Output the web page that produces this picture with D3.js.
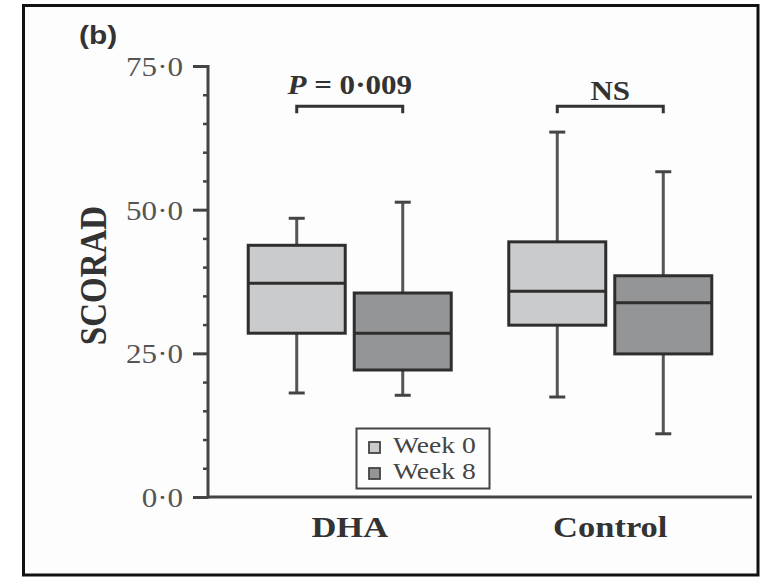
<!DOCTYPE html>
<html>
<head>
<meta charset="utf-8">
<script src="https://cdn.jsdelivr.net/npm/d3@7"></script>
<style>
  html, body { margin: 0; padding: 0; background: #ffffff; }
  svg { display: block; }
</style>
</head>
<body>
<svg id="chart" width="762" height="578"></svg>
<script>
// SCORAD at week 0 and week 8, by treatment group
const groups = ["DHA", "Control"];
const weeks = ["Week 0", "Week 8"];
// [whisker low, Q1, median, Q3, whisker high]
const dhaStats = [
  [18.1, 28.5, 37.2, 43.8, 48.5],
  [17.7, 22.1, 28.5, 35.5, 51.3]
];
const controlStats = [
  [17.4, 29.9, 35.8, 44.4, 63.5],
  [11.0, 24.9, 33.8, 38.5, 56.6]
];
const yTicks = [0, 25, 50, 75];
const comparisons = ["P = 0·009", "NS"];
const bracketLevel = 68;

const boxColors = { "Week 0": "#c9cbcd", "Week 8": "#939597" };
const ink = "#2e2e2e";
const stretch = 1.15;

const svg = d3.select("#chart");

// white page with black frame
svg.append("rect").attr("x", 0).attr("y", 0).attr("width", 762).attr("height", 578).attr("fill", "#ffffff");
svg.append("rect").attr("x", 23.5).attr("y", 5.5).attr("width", 734.5).attr("height", 569.5)
  .attr("fill", "#fdfdfd").attr("stroke", "#111").attr("stroke-width", 3);

const x0 = 208, x1 = 752, yTop = 66, yBot = 497;
const y = d3.scaleLinear().domain([0, 75]).range([yBot, yTop]);
const xg = d3.scaleBand().domain(groups).range([x0, x1]).paddingInner(0).paddingOuter(0.044);
const xw = d3.scaleBand().domain(weeks).range([-101.5, 101.5]).paddingInner(0.085);

const data = [];
groups.forEach((g, gi) => {
  const st = gi === 0 ? dhaStats : controlStats;
  weeks.forEach((w, wi) => {
    const s = st[wi];
    data.push({ group: g, week: w, lo: s[0], q1: s[1], med: s[2], q3: s[3], hi: s[4] });
  });
});
const cx = d => xg(d.group) + xg.bandwidth() / 2 + xw(d.week) + xw.bandwidth() / 2;

// y axis with major and minor ticks
const gy = svg.append("g").attr("transform", `translate(${x0},0)`);
gy.call(d3.axisLeft(y).tickValues(d3.range(0, 76, 5).filter(v => v % 25 !== 0)).tickSize(5).tickFormat(""))
  .call(g => g.select(".domain").remove());
gy.selectAll("line").attr("stroke", "#444").attr("stroke-width", 2.5);
const gyMajor = svg.append("g").attr("transform", `translate(${x0},0)`);
gyMajor.call(d3.axisLeft(y).tickValues(yTicks).tickSize(15).tickPadding(0)
  .tickFormat(v => d3.format(".1f")(v).replace(".", "·")));
gyMajor.select(".domain").remove();
gyMajor.selectAll("line").attr("stroke", "#444").attr("stroke-width", 3);
gyMajor.selectAll("text")
  .attr("x", null).attr("dy", "0.35em")
  .attr("transform", `translate(-25,0) scale(${stretch},1)`)
  .attr("font-family", "'Liberation Serif', 'Times New Roman', serif")
  .attr("font-size", 27).attr("fill", "#555").attr("text-anchor", "end");
svg.append("line").attr("x1", x0).attr("x2", x0).attr("y1", y(75) - 1).attr("y2", y(0) + 1.5)
  .attr("stroke", "#444").attr("stroke-width", 3);

// x axis baseline
svg.append("line").attr("x1", x0).attr("x2", x1).attr("y1", y(0)).attr("y2", y(0))
  .attr("stroke", "#444").attr("stroke-width", 3);

// boxes and whiskers
const bw = xw.bandwidth();
const capW = 16;
const box = svg.append("g").selectAll("g").data(data).join("g");
box.append("line").attr("x1", cx).attr("x2", cx).attr("y1", d => y(d.hi)).attr("y2", d => y(d.q3))
  .attr("stroke", "#555").attr("stroke-width", 3);
box.append("line").attr("x1", cx).attr("x2", cx).attr("y1", d => y(d.q1)).attr("y2", d => y(d.lo))
  .attr("stroke", "#555").attr("stroke-width", 3);
box.append("line").attr("x1", d => cx(d) - capW / 2).attr("x2", d => cx(d) + capW / 2)
  .attr("y1", d => y(d.hi)).attr("y2", d => y(d.hi)).attr("stroke", "#444").attr("stroke-width", 3);
box.append("line").attr("x1", d => cx(d) - capW / 2).attr("x2", d => cx(d) + capW / 2)
  .attr("y1", d => y(d.lo)).attr("y2", d => y(d.lo)).attr("stroke", "#444").attr("stroke-width", 3);
box.append("rect").attr("x", d => cx(d) - bw / 2).attr("width", bw)
  .attr("y", d => y(d.q3)).attr("height", d => y(d.q1) - y(d.q3))
  .attr("fill", d => boxColors[d.week]).attr("stroke", ink).attr("stroke-width", 3);
box.append("line").attr("x1", d => cx(d) - bw / 2).attr("x2", d => cx(d) + bw / 2)
  .attr("y1", d => y(d.med)).attr("y2", d => y(d.med)).attr("stroke", ink).attr("stroke-width", 3);

// comparison brackets
groups.forEach((g, gi) => {
  const a = cx({ group: g, week: weeks[0] });
  const b = cx({ group: g, week: weeks[1] });
  const yb = y(bracketLevel);
  svg.append("path")
    .attr("d", `M${a},${yb + 7}V${yb}H${b}V${yb + 7}`)
    .attr("fill", "none").attr("stroke", "#333").attr("stroke-width", 3);
  const t = svg.append("text")
    .attr("transform", `translate(${(a + b) / 2},${gi === 0 ? yb - 12 : yb - 6}) scale(${stretch},1)`)
    .attr("text-anchor", "middle")
    .attr("font-family", "'Liberation Serif', 'Times New Roman', serif")
    .attr("font-size", 27).attr("font-weight", "bold").attr("fill", "#333");
  const label = comparisons[gi];
  if (label.startsWith("P")) {
    t.append("tspan").attr("font-style", "italic").text("P");
    t.append("tspan").text(label.slice(1));
  } else {
    t.text(label);
  }
});

// category labels
groups.forEach(g => {
  svg.append("text")
    .attr("transform", `translate(${xg(g) + xg.bandwidth() / 2},537) scale(${stretch},1)`)
    .attr("text-anchor", "middle")
    .attr("font-family", "'Liberation Serif', 'Times New Roman', serif")
    .attr("font-size", 30).attr("font-weight", "bold").attr("fill", "#333")
    .text(g);
});

// y axis title
svg.append("text")
  .attr("transform", `translate(106,${(y(0) + y(75)) / 2 - 6}) rotate(-90) scale(1,${stretch})`)
  .attr("text-anchor", "middle")
  .attr("font-family", "'Liberation Serif', 'Times New Roman', serif")
  .attr("font-size", 33).attr("font-weight", "bold").attr("fill", "#333")
  .text("SCORAD");

// panel letter
svg.append("text")
  .attr("transform", `translate(79,44) scale(${stretch},1)`)
  .attr("font-family", "'Liberation Sans', Arial, sans-serif")
  .attr("font-size", 26).attr("font-weight", "bold").attr("fill", "#333")
  .text("(b)");

// legend
const lg = svg.append("g");
lg.append("rect").attr("x", 356.5).attr("y", 428.5).attr("width", 133).attr("height", 60)
  .attr("fill", "#fdfdfd").attr("stroke", "#444").attr("stroke-width", 2);
weeks.forEach((w, i) => {
  const by = 453 + i * 26;
  lg.append("rect").attr("x", 369).attr("y", by - 11).attr("width", 11).attr("height", 11)
    .attr("fill", boxColors[w]).attr("stroke", "#444").attr("stroke-width", 1.8);
  lg.append("text")
    .attr("transform", `translate(393,${by}) scale(${stretch},1)`)
    .attr("font-family", "'Liberation Serif', 'Times New Roman', serif")
    .attr("font-size", 24).attr("fill", "#444")
    .text(w);
});
</script>
</body>
</html>
